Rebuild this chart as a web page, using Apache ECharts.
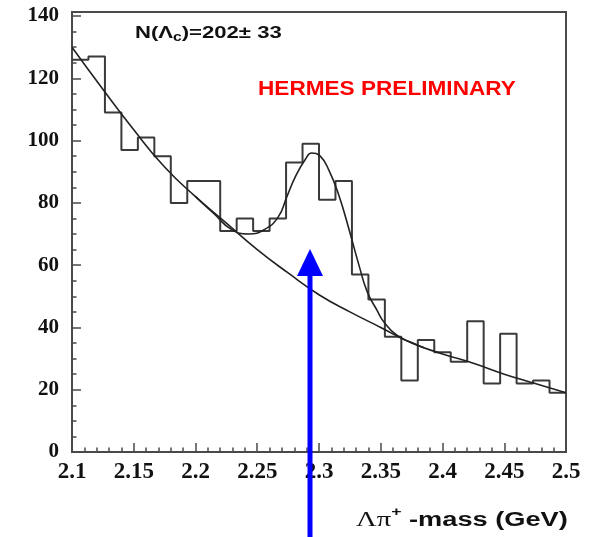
<!DOCTYPE html>
<html><head><meta charset="utf-8">
<script src="https://cdn.jsdelivr.net/npm/echarts@6/dist/echarts.min.js"></script>
<style>html,body{margin:0;padding:0;background:#fff}#c{width:591px;height:537px}</style>
</head><body><div id="c"></div>
<script>
// ---- data ----
const xMin = 2.1, xMax = 2.5, nBins = 30;
const xTickValues = [2.1, 2.15, 2.2, 2.25, 2.3, 2.35, 2.4, 2.45, 2.5];
const xTickLabels = ['2.1', '2.15', '2.2', '2.25', '2.3', '2.35', '2.4', '2.45', '2.5'];
const yTickValues = [0, 20, 40, 60, 80, 100, 120, 140];
const yTickLabels = ['0', '20', '40', '60', '80', '100', '120', '140'];
const binCounts = [126, 127, 109, 97, 101, 95, 80, 87, 87, 71, 75, 71, 75, 93, 99,
                   81, 87, 57, 49, 37, 23, 36, 32, 29, 42, 22, 38, 22, 23, 19];
const bgMass = [2.100, 2.125, 2.150, 2.175, 2.200, 2.225, 2.250, 2.275, 2.300, 2.325,
                2.350, 2.375, 2.400, 2.425, 2.450, 2.475, 2.500];
const bgFit  = [130, 116.5, 103.5, 91.5, 82, 73.5, 65, 57.5, 50.5, 45,
                40, 35, 31.5, 28.5, 25, 22, 19];
const totMass = [2.200, 2.215, 2.229, 2.243, 2.256, 2.267, 2.274, 2.281, 2.289, 2.294,
                 2.301, 2.308, 2.316, 2.325, 2.332, 2.339, 2.347, 2.353, 2.363, 2.376, 2.385];
const totFit  = [82, 76.5, 71.5, 70, 71.5, 75.5, 82, 88.5, 94, 96,
                 95, 90.5, 82.5, 70.5, 60.5, 51.5, 45.5, 41.5, 37.5, 35, 33.5];
const yieldText = 'N(Λ';
const yieldSub = 'c';
const yieldRest = ')=202± 33';
const prelimText = 'HERMES PRELIMINARY';
const axisTitleGreek = 'Λπ';
const axisTitleSup = '+';
const axisTitleRest = ' -mass (GeV)';

// ---- build ----
const binWidth = (xMax - xMin) / nBins;
const histData = binCounts.map((v, i) => [xMin + i * binWidth, v]);
histData.push([xMax, binCounts[binCounts.length - 1]]);
const bgData = bgMass.map((m, i) => [m, bgFit[i]]);
const totData = totMass.map((m, i) => [m, totFit[i]]);

const frameColor = '#4a4a4a';
const chart = echarts.init(document.getElementById('c'), null, {renderer: 'canvas'});
chart.setOption({
  animation: false,
  backgroundColor: '#fff',
  grid: {left: 72, right: 25, top: 12, bottom: 85, show: true,
         borderColor: frameColor, borderWidth: 2, backgroundColor: 'transparent'},
  xAxis: {
    type: 'value', min: xMin, max: xMax, interval: 0.05,
    axisLine: {show: true, lineStyle: {color: frameColor, width: 2}},
    axisTick: {show: true, inside: true, length: 9, lineStyle: {color: frameColor, width: 1.5}},
    minorTick: {show: true, splitNumber: 5, length: 4.5, lineStyle: {color: frameColor, width: 1.5}},
    splitLine: {show: false},
    axisLabel: {
      margin: 9, color: '#111', fontFamily: 'Liberation Serif', fontWeight: 'bold', fontSize: 23,
      formatter: v => { const k = xTickValues.findIndex(t => Math.abs(t - v) < 1e-6); return k >= 0 ? xTickLabels[k] : ''; }
    }
  },
  yAxis: {
    type: 'value', min: 0, max: 141.3, interval: 20,
    axisLine: {show: true, lineStyle: {color: frameColor, width: 2}},
    axisTick: {show: true, inside: true, length: 9, lineStyle: {color: frameColor, width: 1.5}},
    minorTick: {show: true, splitNumber: 4, length: 4.5, lineStyle: {color: frameColor, width: 1.5}},
    splitLine: {show: false},
    axisLabel: {
      margin: 13, color: '#111', fontFamily: 'Liberation Serif', fontWeight: 'bold', fontSize: 21,
      showMaxLabel: false,
      formatter: v => { const k = yTickValues.findIndex(t => Math.abs(t - v) < 1e-6); return k >= 0 ? yTickLabels[k] : ''; }
    }
  },
  series: [
    {type: 'line', data: histData, step: 'end', symbol: 'none', z: 2,
     lineStyle: {color: '#3a3a3a', width: 2}},
    {type: 'line', data: bgData, smooth: true, symbol: 'none', z: 3,
     lineStyle: {color: '#222', width: 1.6}},
    {type: 'line', data: totData, smooth: true, symbol: 'none', z: 3,
     lineStyle: {color: '#222', width: 1.6}}
  ],
  graphic: [
    {type: 'text', x: 135, y: 22, scaleX: 1.3, z: 10,
     style: {text: '{a|' + yieldText + '}{s|' + yieldSub + '}{a|' + yieldRest + '}',
       align: 'left', verticalAlign: 'top',
       rich: {
         a: {fontFamily: 'Liberation Sans', fontWeight: 'bold', fontSize: 17, fill: '#111', lineHeight: 22, verticalAlign: 'middle'},
         s: {fontFamily: 'Liberation Sans', fontWeight: 'bold', fontSize: 12, fill: '#111', lineHeight: 22, verticalAlign: 'bottom'}
       }}},
    {type: 'text', x: 258, y: 79, scaleX: 1.13, z: 10,
     style: {text: prelimText, align: 'left', verticalAlign: 'top',
       fontFamily: 'Liberation Sans', fontWeight: 'bold', fontSize: 20, fill: '#ff0000'}},
    {type: 'text', x: 356, y: 506, scaleX: 1.36, z: 10,
     style: {text: '{l|' + axisTitleGreek + '}{p|' + axisTitleSup + '}{m|' + axisTitleRest + '}',
       align: 'left', verticalAlign: 'top',
       rich: {
         l: {fontFamily: 'Liberation Serif', fontSize: 21, fill: '#111', lineHeight: 28, verticalAlign: 'middle'},
         p: {fontFamily: 'Liberation Sans', fontWeight: 'bold', fontSize: 13, fill: '#111', lineHeight: 28, verticalAlign: 'top'},
         m: {fontFamily: 'Liberation Sans', fontWeight: 'bold', fontSize: 20, fill: '#111', lineHeight: 28, verticalAlign: 'middle'}
       }}},
    {type: 'group', z: 20, children: [
      {type: 'rect', shape: {x: 307.5, y: 270, width: 5, height: 270}, style: {fill: '#0000ff'}, z: 20},
      {type: 'polygon', shape: {points: [[310, 249], [297, 276], [323, 276]]}, style: {fill: '#0000ff'}, z: 20}
    ]}
  ]
});
</script>
</body></html>
